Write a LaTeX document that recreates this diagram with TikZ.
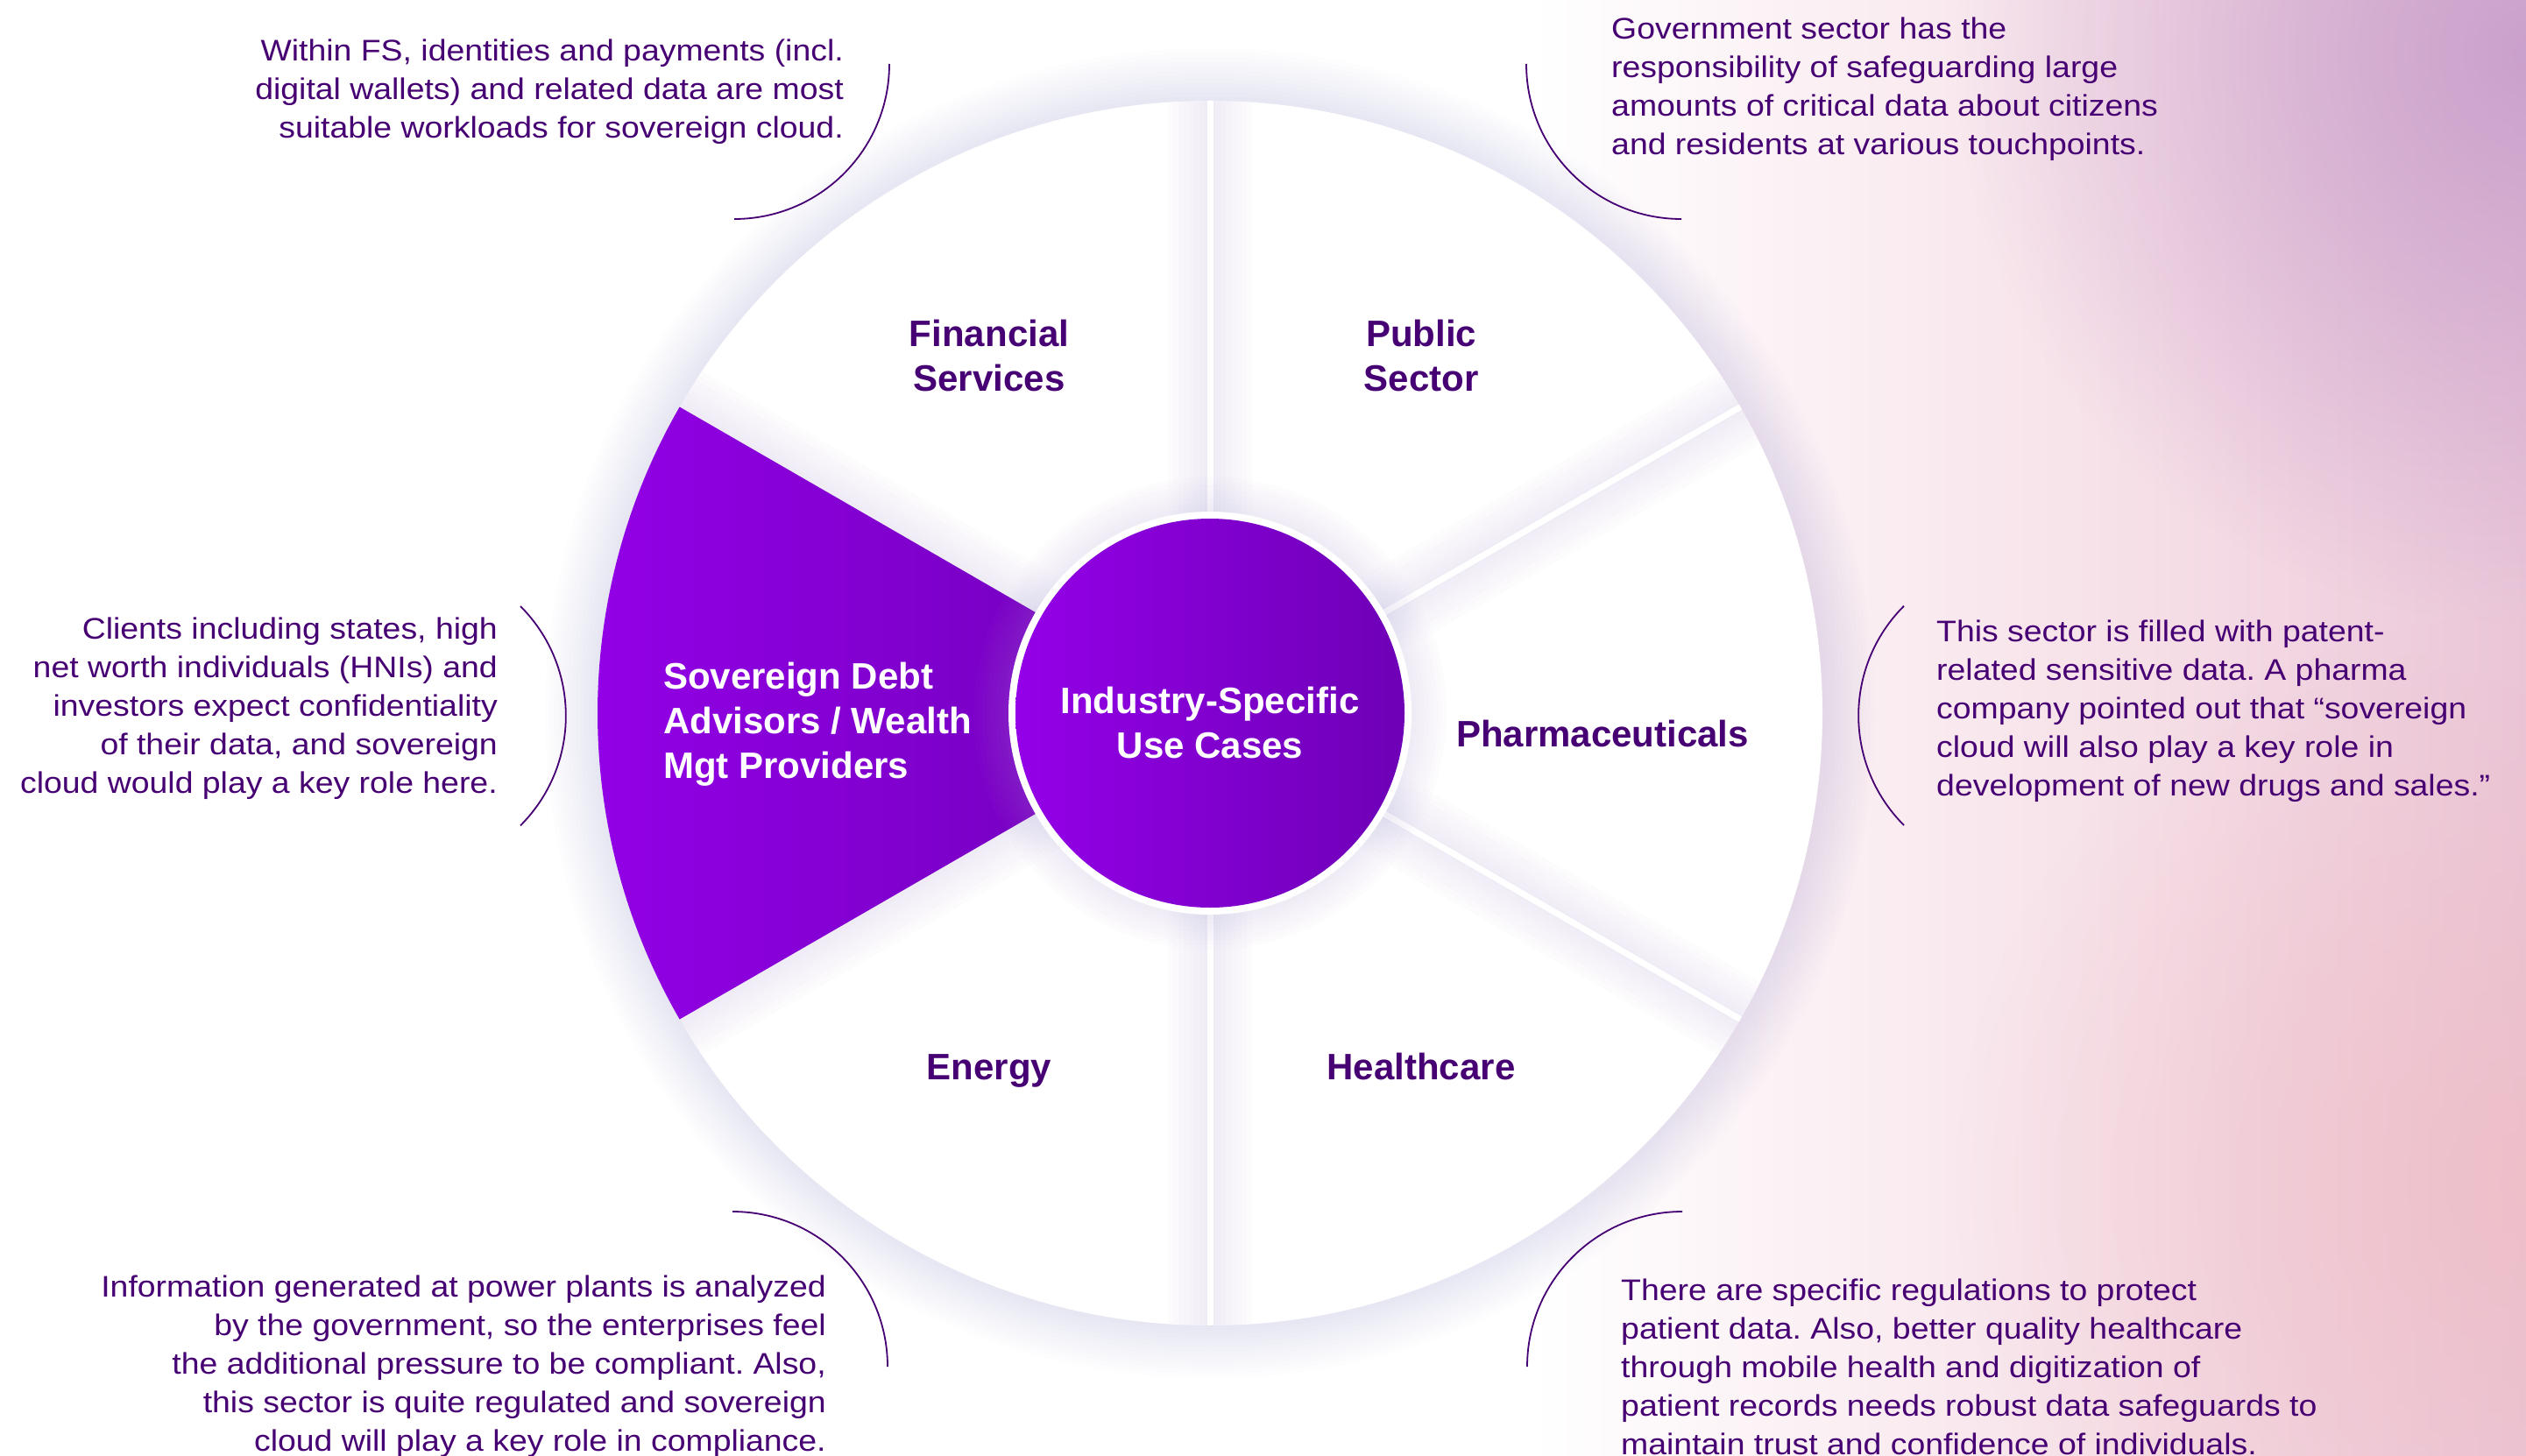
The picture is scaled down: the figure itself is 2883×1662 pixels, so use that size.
\documentclass[tikz,border=0pt]{standalone}
\usepackage{fontspec}
\setmainfont{Liberation Sans}
\newfontfamily\callfont[FakeStretch=1.1]{Liberation Sans}
\frenchspacing
\usetikzlibrary{fadings}
\definecolor{txt}{HTML}{460073}
\definecolor{pL}{HTML}{9400E8}
\definecolor{pR}{HTML}{6E00B6}
\definecolor{shd}{HTML}{B5A2D4}
\definecolor{bgA}{HTML}{F6DFE7}
\definecolor{bgB}{HTML}{EAC6D8}
\definecolor{lav}{HTML}{C79DCB}
\definecolor{pinkc}{HTML}{EFBCC3}
\tikzfading[name=radfade, inner color=transparent!0, outer color=transparent!100]
\tikzset{
  callout/.style={text=txt, inner sep=0pt, font=\callfont\fontsize{34}{44}\selectfont},
  seclabel/.style={text=txt, inner sep=0pt, align=center, font=\bfseries\fontsize{42}{51}\selectfont},
  bracket/.style={draw=txt, line width=1.8pt},
  gapline/.style={draw=white, line width=7pt},
}
\newcommand{\wsector}[2]{%
  \begin{scope}
    \clip (0,0) -- (#1:699) arc[start angle=#1, end angle=#2, radius=699] -- cycle;
    \fill[white] (0,0) circle (700);
    \foreach \w in {12,24,...,96} {
      \draw[shd, opacity=0.022, line width=\w] (0,0) -- (#1:720);
      \draw[shd, opacity=0.022, line width=\w] (0,0) -- (#2:720);
    }
  \end{scope}}
\begin{document}
\begin{tikzpicture}[x=1pt,y=-1pt]
\useasboundingbox (0,0) rectangle (2883,1662);
% background
\fill[white] (0,0) rectangle (2883,1662);
\shade[left color=white, right color=bgA] (1750,0) rectangle (2450,1662);
\shade[left color=bgA, right color=bgB] (2450,0) rectangle (2883,1662);
\fill[lav, opacity=0.9, path fading=radfade] (2883,60) circle (650);
\fill[pinkc, opacity=0.7, path fading=radfade] (2883,1350) circle (650);

\begin{scope}[shift={(1381,814)}]
  % outer glow
  \foreach \i in {1,...,12} {\fill[shd, opacity=0.02] (0,0) circle ({699+5*\i});}
  % white sectors (xy angles, y downwards)
  \wsector{210}{270}
  \wsector{270}{330}
  \wsector{-30}{30}
  \wsector{30}{90}
  \wsector{90}{150}
  % purple sector
  \shade[left color=pL, right color=pR] (0,0) -- (150:699) arc[start angle=150, end angle=210, radius=699] -- cycle;
  % gaps
  \foreach \a in {-90,-30,30,90} {\draw[gapline] (\a:225) -- (\a:699);}
  % inner circle glow and ring
  \foreach \i in {1,...,8} {\fill[shd, opacity=0.025] (0,0) circle ({230+5*\i});}
  \fill[white] (0,0) circle (230);
  \shade[left color=pL, right color=pR] (0,0) circle (222);
\end{scope}

% sector labels
\node[seclabel] (fs) at (1129,406) {Financial\\Services};
\node[seclabel] (ps) at (1622,406) {Public\\Sector};
\node[seclabel, anchor=base] (ph) at (1829,852) {Pharmaceuticals};
\node[seclabel, anchor=base] (hc) at (1622,1232) {Healthcare};
\node[seclabel, anchor=base] (en) at (1129,1232) {Energy};
\node[seclabel, text=white, align=left, anchor=west] (sd) at (757,827) {Sovereign Debt\\Advisors / Wealth\\Mgt Providers};
\node[seclabel, text=white] (core) at (1381,825) {Industry-Specific\\Use Cases};

% callouts
\node[callout, align=right, anchor=east] (tFS) at (963,105) {Within FS, identities and payments (incl.\\digital wallets) and related data are most\\suitable workloads for sovereign cloud.};
\node[callout, align=left, anchor=west] (tPS) at (1839,102) {Government sector has the\\responsibility of safeguarding large\\amounts of critical data about citizens\\and residents at various touchpoints.};
\node[callout, align=right, anchor=east] (tSD) at (568,809) {Clients including states, high\\net worth individuals (HNIs) and\\investors expect confidentiality\\of their data, and sovereign\\cloud would play a key role here.};
\node[callout, align=left, anchor=west] (tPH) at (2210,812) {This sector is filled with patent-\\related sensitive data. A pharma\\company pointed out that “sovereign\\cloud will also play a key role in\\development of new drugs and sales.”};
\node[callout, align=right, anchor=east] (tEN) at (943,1560) {Information generated at power plants is analyzed\\by the government, so the enterprises feel\\the additional pressure to be compliant. Also,\\this sector is quite regulated and sovereign\\cloud will play a key role in compliance.};
\node[callout, align=left, anchor=west] (tHC) at (1850,1560) {There are specific regulations to protect\\patient data. Also, better quality healthcare\\through mobile health and digitization of\\patient records needs robust data safeguards to\\maintain trust and confidence of individuals.};

% brackets
\draw[bracket] (838,250) arc[start angle=90, end angle=0, radius=177];
\draw[bracket] (1919,250) arc[start angle=90, end angle=180, radius=177];
\draw[bracket] (594,692) arc[start angle=-45, end angle=45, radius=177];
\draw[bracket] (2173,942) arc[start angle=135, end angle=225, radius=177];
\draw[bracket] (836,1383) arc[start angle=270, end angle=360, radius=177];
\draw[bracket] (1920,1383) arc[start angle=270, end angle=180, radius=177];
\end{tikzpicture}
\end{document}
